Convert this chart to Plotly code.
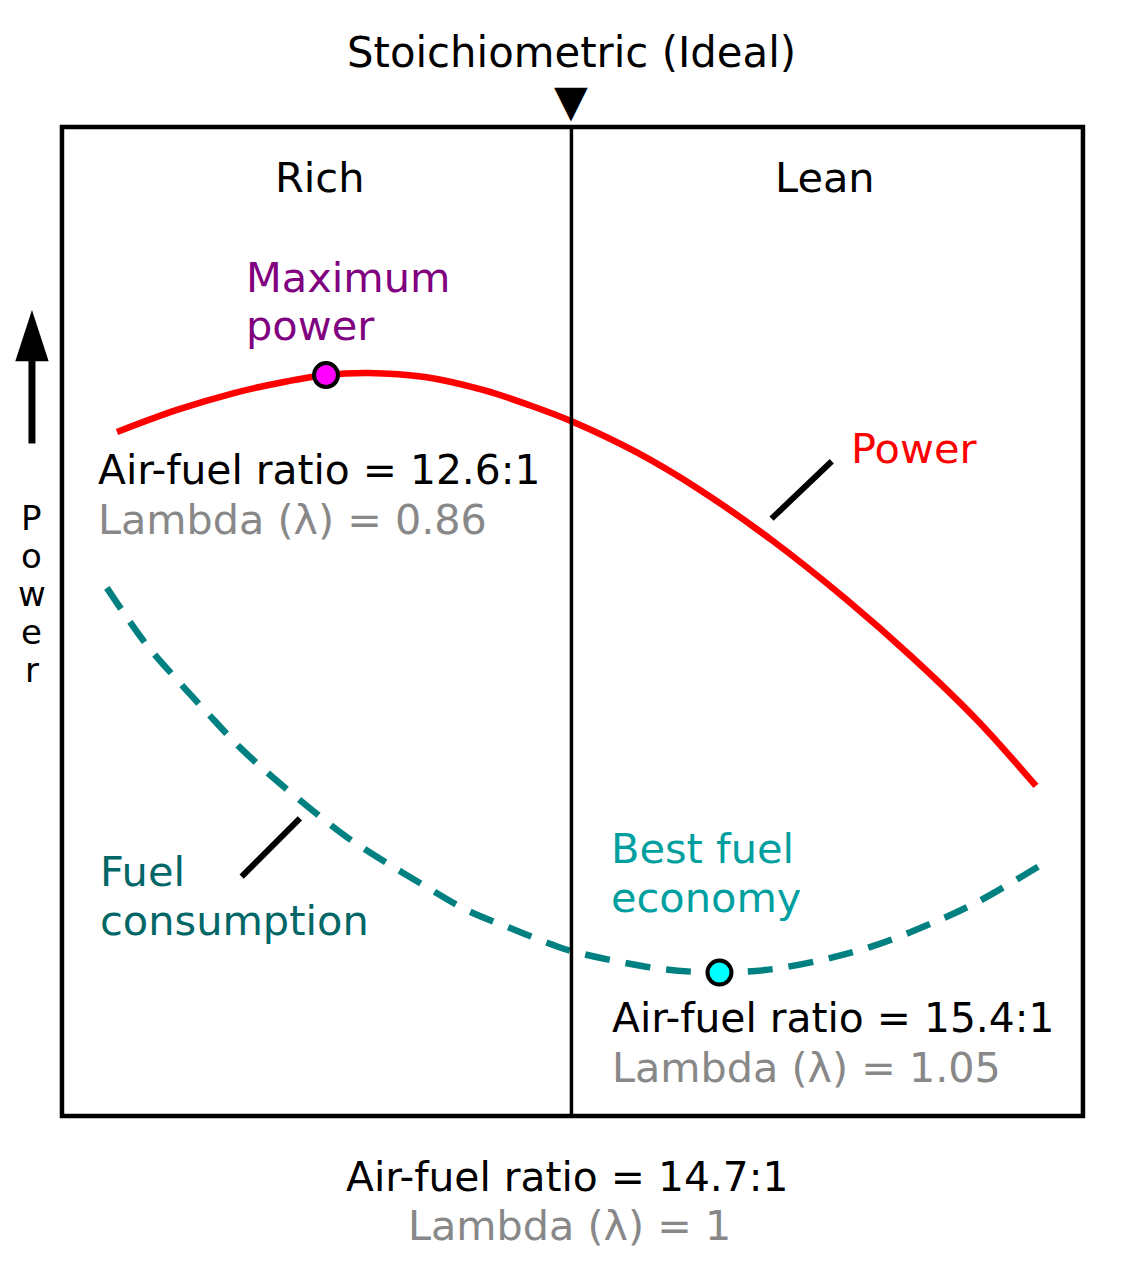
"""Schematic of engine power and fuel consumption against air-fuel ratio."""

import plotly.graph_objects as go

FONT = "DejaVu Sans"

# schematic units: x runs 0..100 across the box (rich -> lean), y 0..100 bottom -> top
power_x = [5.39, 11.26, 16.85, 21.74, 25.86, 29.97, 35.55, 41.23, 45.74,
           49.85, 56.22, 62.49, 69.64, 76.89, 83.35, 89.62, 95.40]
power_y = [69.16, 71.39, 73.10, 74.22, 74.92, 75.13, 74.72, 73.41, 71.89,
           70.27, 67.14, 63.30, 58.14, 52.17, 46.31, 40.04, 33.37]

fuel_x = [4.4, 8.1, 11.1, 14.2, 17.4, 20.7, 24.3, 27.9, 31.8, 35.8, 39.7, 43.9,
          48.1, 50.2, 57.2, 61.6, 64.4, 69.2, 74.5, 79.2, 84.3, 89.4, 95.6]
fuel_y = [53.4, 47.9, 44.3, 40.8, 37.3, 34.2, 31.1, 28.2, 25.6, 23.1, 20.8, 19.0,
          17.3, 16.6, 15.1, 14.6, 14.5, 14.8, 15.8, 17.1, 19.1, 21.5, 25.2]

max_power_point = (25.86, 74.92)
best_economy_point = (64.4, 14.5)
stoich_x = 49.9

power_leader_x = [69.5, 75.4]
power_leader_y = [60.4, 66.2]
fuel_leader_x = [17.6, 23.3]
fuel_leader_y = [24.2, 30.1]

axis_arrow_x = -2.94
axis_arrow_y = [68.0, 77.0]
axis_arrow_tip = 81.5

axis_label = ["P", "o", "w", "e", "r"]
axis_label_y = [60.5, 56.6, 52.8, 48.9, 45.1]

fig = go.Figure()

# frame and stoichiometric divider
fig.add_shape(
    type="rect", x0=0, x1=100, y0=0, y1=100, xref="x", yref="y",
    line={"color": "black", "width": 4.5},
)
fig.add_shape(
    type="line", x0=stoich_x, x1=stoich_x, y0=0, y1=100, xref="x", yref="y",
    line={"color": "black", "width": 3.5},
)

fig.add_trace(
    go.Scatter(
        x=fuel_x,
        y=fuel_y,
        mode="lines",
        line={"color": "#008080", "width": 6.5, "dash": "25px,16px",
              "shape": "spline", "simplify": False},
    )
)
fig.add_trace(
    go.Scatter(
        x=power_x,
        y=power_y,
        mode="lines",
        line={"color": "#ff0000", "width": 6.5, "shape": "spline", "simplify": False},
    )
)

# leader lines from the labels to the curves
for lx, ly in [(power_leader_x, power_leader_y), (fuel_leader_x, fuel_leader_y)]:
    fig.add_trace(
        go.Scatter(x=lx, y=ly, mode="lines", line={"color": "black", "width": 6})
    )

for (px, py), colour in [(max_power_point, "#ff00ff"), (best_economy_point, "#00ffff")]:
    fig.add_trace(
        go.Scatter(
            x=[px],
            y=[py],
            mode="markers",
            marker={"size": 24, "color": colour, "line": {"color": "black", "width": 4}},
        )
    )

# upward "Power" arrow left of the box
fig.add_trace(
    go.Scatter(
        x=[axis_arrow_x, axis_arrow_x],
        y=axis_arrow_y,
        mode="lines",
        line={"color": "black", "width": 7},
    )
)
fig.add_trace(
    go.Scatter(
        x=[axis_arrow_x],
        y=[axis_arrow_tip],
        mode="markers",
        marker={"symbol": "arrow", "size": 54, "color": "black"},
    )
)


def add_label(text, x, y, color="black", anchor="left", size=41.5):
    fig.add_annotation(
        x=x,
        y=y,
        xref="x",
        yref="y",
        text=text,
        showarrow=False,
        xanchor=anchor,
        yanchor="middle",
        font={"family": FONT, "size": size, "color": color},
    )


add_label("Stoichiometric (Ideal)", stoich_x, 107.5, anchor="center", size=41.8)
add_label("▼", stoich_x, 102.7, anchor="center", size=44)
add_label("Rich", 25.2, 94.9, anchor="center")
add_label("Lean", 74.7, 94.9, anchor="center")

add_label("Maximum", 17.8, 84.8, color="#800080")
add_label("power", 17.8, 79.9, color="#800080")
add_label("Air-fuel ratio = 12.6:1", 3.3, 65.3, size=40.8)
add_label("Lambda (λ) = 0.86", 3.3, 60.3, color="#888888", size=41.3)

add_label("Power", 77.1, 67.5, color="#ff0000")

add_label("Fuel", 3.5, 24.7, color="#006666")
add_label("consumption", 3.5, 19.8, color="#006666")

add_label("Best fuel", 53.6, 27.0, color="#009f9f")
add_label("economy", 53.6, 22.1, color="#009f9f")
add_label("Air-fuel ratio = 15.4:1", 53.7, 9.9, size=40.8)
add_label("Lambda (λ) = 1.05", 53.7, 4.9, color="#888888", size=41.3)

add_label("Air-fuel ratio = 14.7:1", 49.5, -6.2, anchor="center", size=40.8)
add_label("Lambda (λ) = 1", 49.7, -11.1, color="#888888", anchor="center", size=41.3)

for letter, ly in zip(axis_label, axis_label_y):
    add_label(letter, axis_arrow_x, ly, anchor="center", size=34)

hidden_axis = {
    "visible": False,
    "showgrid": False,
    "zeroline": False,
    "fixedrange": True,
}
fig.update_layout(
    xaxis={**hidden_axis, "range": [-6.07, 105.49]},
    yaxis={**hidden_axis, "range": [-16.58, 112.84]},
    showlegend=False,
    plot_bgcolor="white",
    paper_bgcolor="white",
    margin={"l": 0, "r": 0, "t": 0, "b": 0},
    width=1139,
    height=1280,
)

fig.write_html(
    "out.html",
    config={"displayModeBar": False},
    post_script="document.body.style.margin = '0';",
)
